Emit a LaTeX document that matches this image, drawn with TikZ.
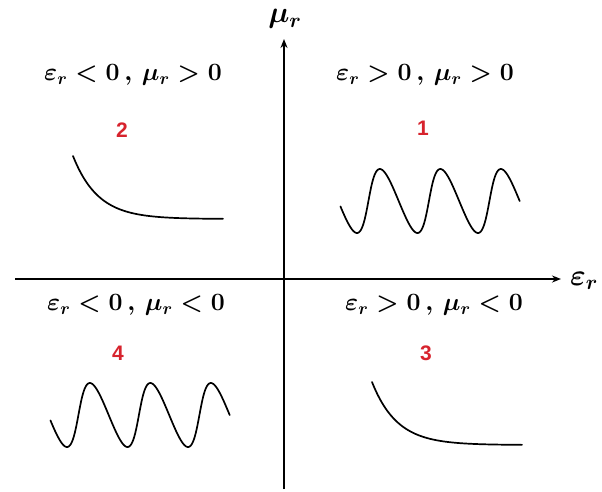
\documentclass[tikz,border=0pt]{standalone}
\usepackage{fontspec}
\newfontfamily\numfont{Liberation Sans}
\usetikzlibrary{arrows.meta}
\definecolor{numred}{RGB}{215,35,45}
\begin{document}
\begin{tikzpicture}[x=1pt,y=-1pt,
  axis/.style={line width=1.8pt,-{Stealth[length=9pt,width=7pt]}},
  curve/.style={line width=1.7pt,line join=round,line cap=round},
  cond/.style={font=\fontsize{23}{26}\selectfont\boldmath,inner sep=0pt},
  num/.style={font=\numfont\bfseries\fontsize{21}{24}\selectfont,text=numred,inner sep=0pt},
  axlab/.style={font=\fontsize{24}{26}\selectfont\boldmath,inner sep=0pt}]
\useasboundingbox (0,0) rectangle (602,491);
% axes
\coordinate (ybot) at (284,489);
\coordinate (ytop) at (284,39);
\coordinate (xleft) at (15,279);
\coordinate (xright) at (561,279);
\draw[axis] (ybot) -- (ytop);
\draw[axis] (xleft) -- (xright);
\node[axlab] (mu) at (285,19) {\scalebox{1.2}{$\mu_r$}};
\node[axlab,anchor=west] (eps) at (570,281) {\scalebox{1.2}{$\varepsilon_r$}};
% quadrant conditions
\node[cond] (c2) at (133,75) {$\varepsilon_r < 0 \,,\, \mu_r > 0$};
\node[cond] (c1) at (425,75) {$\varepsilon_r > 0 \,,\, \mu_r > 0$};
\node[cond] (c4) at (136,305) {$\varepsilon_r < 0 \,,\, \mu_r < 0$};
\node[cond] (c3) at (434,305) {$\varepsilon_r > 0 \,,\, \mu_r < 0$};
% numbers
\node[num] (n2) at (122,130) {2};
\node[num] (n1) at (423,128) {1};
\node[num] (n4) at (118,353) {4};
\node[num] (n3) at (426,353) {3};
% curves
\draw[curve] plot[domain=0:150,samples=80] ({73+\x},{219-63*exp(-\x/25)});
\draw[curve] plot[domain=0:150,samples=80] ({372+\x},{445-63*exp(-\x/25)});
\draw[curve] plot[domain=-1.4:17.28,samples=220,variable=\t]
  ({353.3+60.5*\t/6.2832+3.7*cos(\t r)},{201+32*cos(\t r)});
\draw[curve] plot[domain=-1.4:17.28,samples=220,variable=\t]
  ({63.3+60.5*\t/6.2832+3.7*cos(\t r)},{415+32*cos(\t r)});
\end{tikzpicture}
\end{document}
